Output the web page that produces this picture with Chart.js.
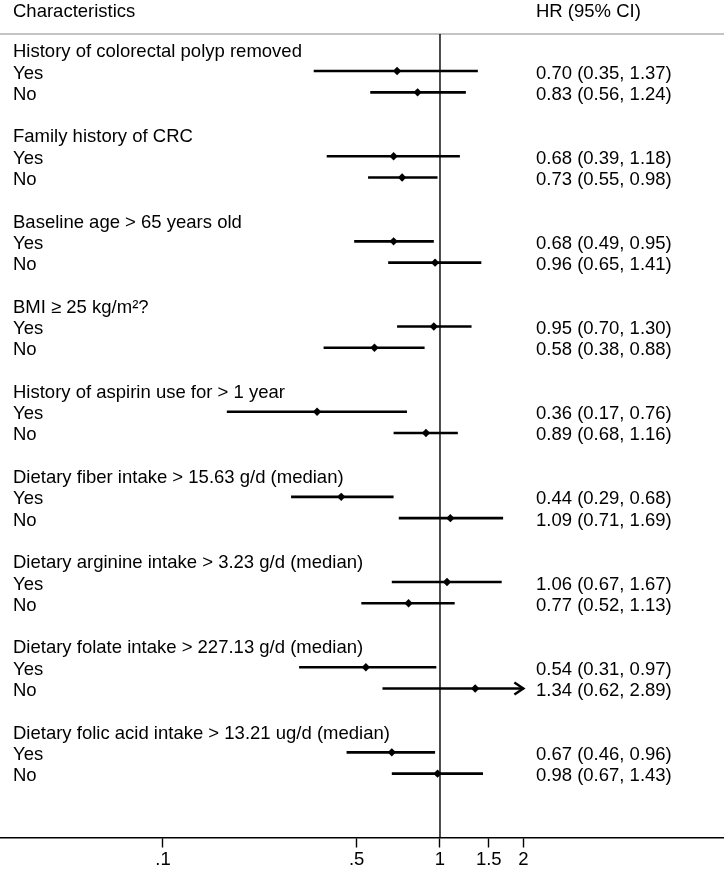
<!DOCTYPE html>
<html>
<head>
<meta charset="utf-8">
<script src="https://cdn.jsdelivr.net/npm/chart.js@4.4.1/dist/chart.umd.min.js"></script>
<style>
html, body { margin: 0; padding: 0; background: #fff; }
#wrap { width: 724px; height: 872px; }
</style>
</head>
<body>
<div id="wrap"><canvas id="forest" width="724" height="872"></canvas></div>
<script>
// groups and subgroup labels
var groups = [
    "History of colorectal polyp removed",
    "Family history of CRC",
    "Baseline age > 65 years old",
    "BMI \u2265 25 kg/m\u00B2?",
    "History of aspirin use for > 1 year",
    "Dietary fiber intake > 15.63 g/d (median)",
    "Dietary arginine intake > 3.23 g/d (median)",
    "Dietary folate intake > 227.13 g/d (median)",
    "Dietary folic acid intake > 13.21 ug/d (median)"
];
var subgroups = ["Yes", "No"];

// hazard ratios, two per group (Yes, No)
var hr    = [0.70, 0.83, 0.68, 0.73, 0.68, 0.96, 0.95, 0.58, 0.36, 0.89, 0.44, 1.09, 1.06, 0.77, 0.54, 1.34, 0.67, 0.98];
var lower = [0.35, 0.56, 0.39, 0.55, 0.49, 0.65, 0.70, 0.38, 0.17, 0.68, 0.29, 0.71, 0.67, 0.52, 0.31, 0.62, 0.46, 0.67];
var upper = [1.37, 1.24, 1.18, 0.98, 0.95, 1.41, 1.30, 0.88, 0.76, 1.16, 0.68, 1.69, 1.67, 1.13, 0.97, 2.89, 0.96, 1.43];

// x axis ticks
var tickValues = [0.1, 0.5, 1, 1.5, 2];
var tickLabels = [".1", ".5", "1", "1.5", "2"];

var xMin = 0.0258, xMax = 10.6;
var clipAt = 2;      // CIs beyond this get an arrow
var yTop = -0.74, yBottom = 37;
var fontFam = '"Liberation Sans", Arial, sans-serif';
var fontSize = 18.5;

function rowOf(i) {
    // heading, Yes, No, blank
    return Math.floor(i / 2) * 4 + 1 + (i % 2);
}

var datasets = [];

// CI lines
for (var i = 0; i < hr.length; i++) {
    datasets.push({
        data: [{x: lower[i], y: rowOf(i)}, {x: Math.min(upper[i], clipAt), y: rowOf(i)}],
        showLine: true,
        borderColor: "#000",
        borderWidth: 2.6,
        pointRadius: 0,
        order: 3
    });
}

// reference line at HR = 1
datasets.push({
    data: [{x: 1, y: yTop}, {x: 1, y: yBottom}],
    showLine: true,
    borderColor: "#000",
    borderWidth: 1.4,
    pointRadius: 0,
    clip: 4,
    order: 2
});

// point estimates
var pts = [];
for (var i = 0; i < hr.length; i++) {
    pts.push({x: hr[i], y: rowOf(i)});
}
datasets.push({
    data: pts,
    pointStyle: "rectRot",
    pointRadius: 4.2,
    backgroundColor: "#000",
    borderColor: "#000",
    borderWidth: 0,
    order: 1
});

var textPlugin = {
    id: "forestText",
    beforeDatasetsDraw: function(chart) {
        var ctx = chart.ctx;
        var top = chart.chartArea.top;
        ctx.save();
        ctx.strokeStyle = "#c4c4c4";
        ctx.lineWidth = 2;
        ctx.beginPath();
        ctx.moveTo(0, top);
        ctx.lineTo(chart.width, top);
        ctx.stroke();
        ctx.restore();
    },
    afterDatasetsDraw: function(chart) {
        var ctx = chart.ctx;
        var xs = chart.scales.x;
        var ys = chart.scales.y;
        ctx.save();
        // arrows for clipped intervals
        ctx.strokeStyle = "#000";
        ctx.lineWidth = 2.4;
        for (var i = 0; i < hr.length; i++) {
            if (upper[i] > clipAt) {
                var px = xs.getPixelForValue(clipAt);
                var py = ys.getPixelForValue(rowOf(i));
                ctx.beginPath();
                ctx.moveTo(px - 9, py - 6);
                ctx.lineTo(px, py);
                ctx.lineTo(px - 9, py + 6);
                ctx.stroke();
            }
        }

        ctx.fillStyle = "#000";
        ctx.font = fontSize + "px " + fontFam;
        ctx.textBaseline = "alphabetic";
        ctx.textAlign = "left";
        ctx.fillText("Characteristics", 13, 17);
        ctx.fillText("HR (95% CI)", 536, 17);

        for (var g = 0; g < groups.length; g++) {
            ctx.fillText(groups[g], 13, ys.getPixelForValue(g * 4) + 7.5);
        }
        for (var i = 0; i < hr.length; i++) {
            var y = ys.getPixelForValue(rowOf(i)) + 7.5;
            ctx.fillText(subgroups[i % 2], 13, y);
            var txt = hr[i].toFixed(2) + " (" + lower[i].toFixed(2) + ", " + upper[i].toFixed(2) + ")";
            ctx.fillText(txt, 536, y);
        }
        ctx.restore();
    }
};

var chart = new Chart(document.getElementById("forest"), {
    type: "scatter",
    data: { datasets: datasets },
    options: {
        responsive: false,
        animation: false,
        devicePixelRatio: 1,
        layout: { autoPadding: false, padding: { top: 34, left: 0, right: 0, bottom: 0 } },
        plugins: {
            legend: { display: false },
            tooltip: { enabled: false },
            title: { display: false }
        },
        scales: {
            x: {
                type: "logarithmic",
                min: xMin,
                max: xMax,
                bounds: "data",
                afterBuildTicks: function(scale) {
                    scale.ticks = tickValues.map(function(v) { return {value: v}; });
                },
                ticks: {
                    autoSkip: false,
                    maxRotation: 0,
                    padding: 3,
                    color: "#000",
                    font: { family: fontFam, size: fontSize, lineHeight: 1 },
                    callback: function(value, index) {
                        return tickLabels[index];
                    }
                },
                grid: {
                    drawOnChartArea: false,
                    drawTicks: true,
                    tickLength: 10,
                    tickColor: "#000",
                    tickWidth: 1.4
                },
                border: { display: true, color: "#000", width: 1.4 }
            },
            y: {
                type: "linear",
                display: false,
                reverse: true,
                min: yTop,
                max: yBottom
            }
        }
    },
    plugins: [textPlugin]
});
</script>
</body>
</html>
